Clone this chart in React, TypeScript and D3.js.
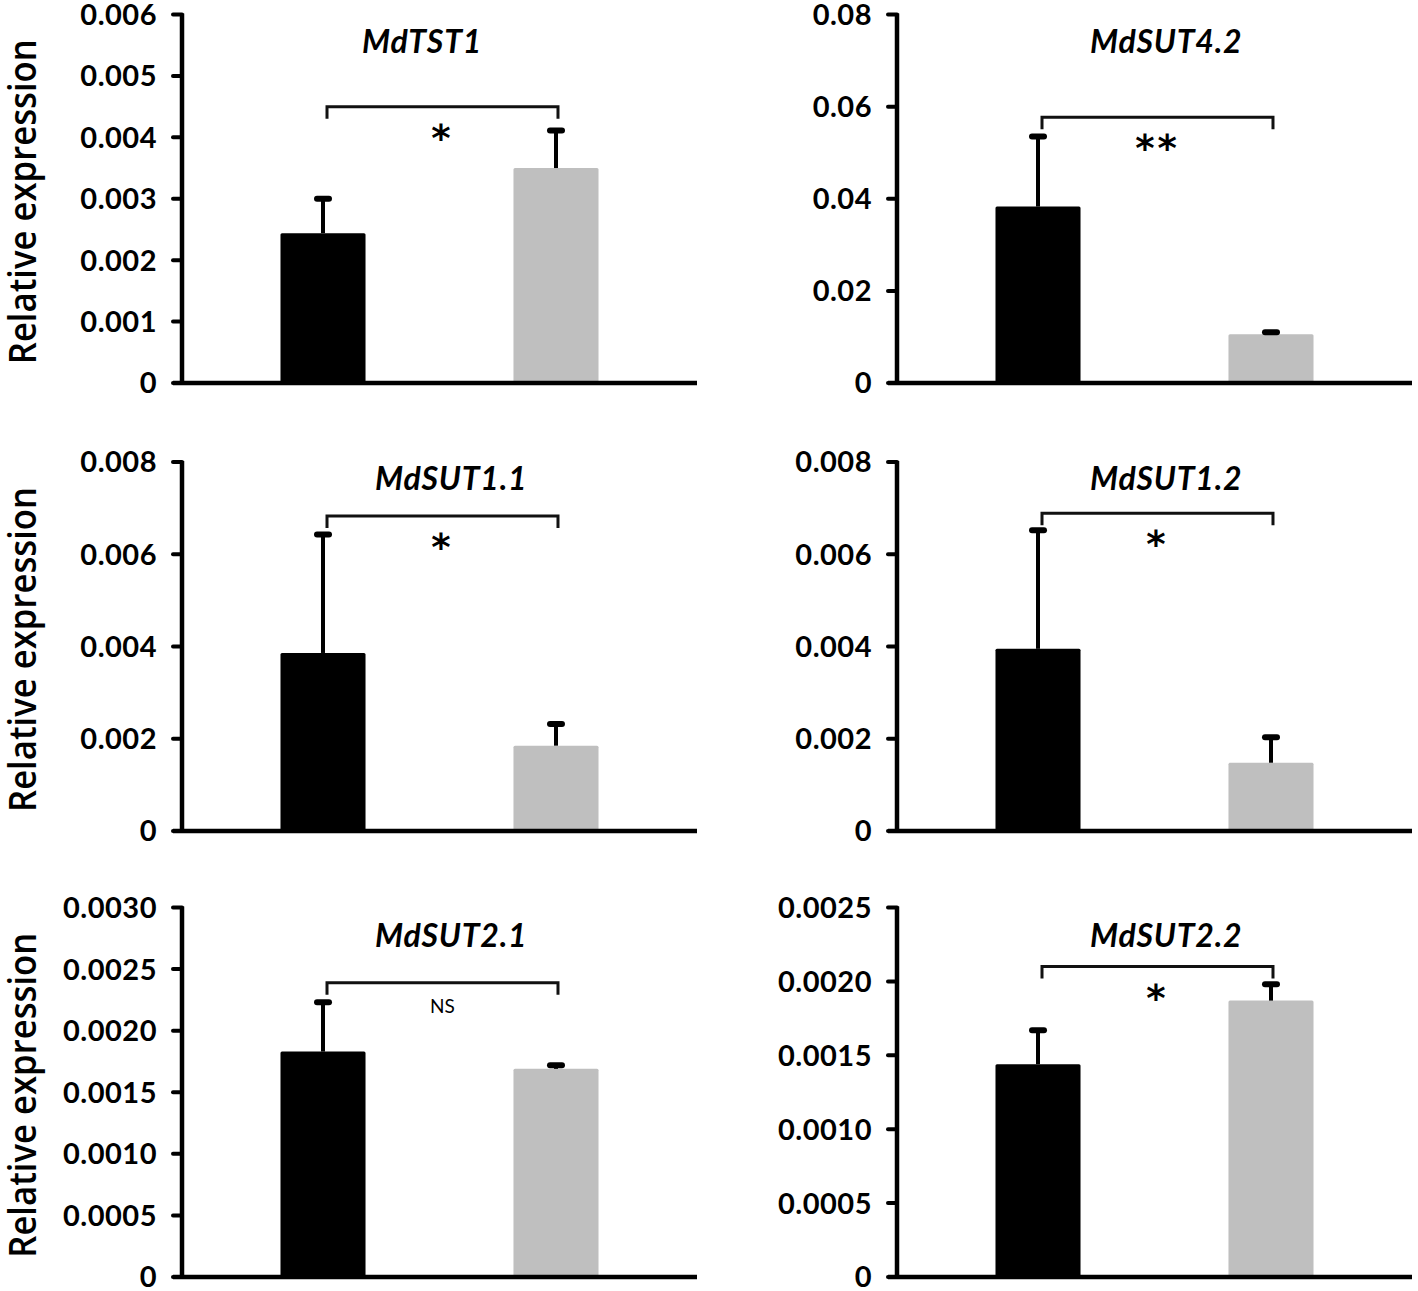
import React from 'react';
import * as d3 from 'd3';

// ---- data ----
const GENES = ['MdTST1', 'MdSUT4.2', 'MdSUT1.1', 'MdSUT1.2', 'MdSUT2.1', 'MdSUT2.2'];
const Y_MAX = [0.006, 0.08, 0.008, 0.008, 0.003, 0.0025];
const Y_STEP = [0.001, 0.02, 0.002, 0.002, 0.0005, 0.0005];
const Y_DECIMALS = [3, 2, 3, 3, 4, 4];
const GROUPS = ['control', 'treatment'];
const MEAN_BLACK = [0.00244, 0.0383, 0.00386, 0.00395, 0.00183, 0.00144];
const ERR_BLACK = [0.00056, 0.0152, 0.00257, 0.00257, 0.0004, 0.00023];
const MEAN_GRAY = [0.0035, 0.0106, 0.00185, 0.00148, 0.00169, 0.00187];
const ERR_GRAY = [0.00061, 0.0004, 0.00047, 0.00055, 0.00003, 0.00011];
const BRACKET_Y = [0.0045, 0.0577, 0.00683, 0.00689, 0.00239, 0.0021];
const SIG = ['*', '**', '*', '*', 'NS', '*'];
const Y_LABEL = 'Relative expression';

// ---- layout ----
const W = 1418;
const H = 1291;
const COL_X = [182, 897];
const PLOT_W = 515;
const ROWS = [
  [14.5, 383],
  [462, 831],
  [907.5, 1277],
];
const TITLE_BASE = [38, 28, 39];
const TITLE_DX = [-13, 0, 0, 0, 0, 0];
const COLORS = ['#000000', '#bfbfbf'];
const FONT = 'Lato, "Open Sans", sans-serif';

function Panel({ i }: { i: number }) {
  const col = i % 2;
  const row = Math.floor(i / 2);
  const x0 = COL_X[col];
  const [top, bottom] = ROWS[row];
  const y = d3.scaleLinear().domain([0, Y_MAX[i]]).range([bottom, top]);
  const x = d3
    .scaleBand<string>()
    .domain(GROUPS)
    .range([x0, x0 + PLOT_W])
    .paddingInner(0.635)
    .paddingOuter(0.4227);
  const bw = x.bandwidth();
  const ticks = d3.range(0, Y_MAX[i] + Y_STEP[i] / 2, Y_STEP[i]);
  const fmt = (v: number) => (Math.abs(v) < 1e-12 ? '0' : v.toFixed(Y_DECIMALS[i]));
  const means = [MEAN_BLACK[i], MEAN_GRAY[i]];
  const errs = [ERR_BLACK[i], ERR_GRAY[i]];
  const bx1 = (x(GROUPS[0]) as number) + bw / 2 + 4;
  const bx2 = (x(GROUPS[1]) as number) + bw / 2 + 2;
  const by = y(BRACKET_Y[i]);
  const isNS = SIG[i] === 'NS';
  return (
    <g>
      {/* bars */}
      {GROUPS.map((g, k) => (
        <rect
          key={g}
          x={x(g) as number}
          y={y(means[k])}
          width={bw}
          height={bottom - y(means[k])}
          fill={COLORS[k]}
          rx={1.5}
        />
      ))}
      {/* error bars */}
      {GROUPS.map((g, k) => {
        const cx = (x(g) as number) + bw / 2;
        const yt = y(means[k] + errs[k]);
        return (
          <g key={'e' + g}>
            <line x1={cx} x2={cx} y1={y(means[k])} y2={yt} stroke="#000" strokeWidth={4} />
            <line
              x1={cx - 6}
              x2={cx + 6}
              y1={yt}
              y2={yt}
              stroke="#000"
              strokeWidth={6}
              strokeLinecap="round"
            />
          </g>
        );
      })}
      {/* axes */}
      <line x1={x0} x2={x0} y1={top - 1} y2={bottom} stroke="#000" strokeWidth={4.5} />
      {ticks.map((t) => (
        <g key={t}>
          <line x1={x0 - 9} x2={x0} y1={y(t)} y2={y(t)} stroke="#000" strokeWidth={4} strokeLinecap="round" />
          <text
            x={x0 - 25}
            y={y(t)}
            dy="0.36em"
            textAnchor="end"
            fontFamily={FONT}
            fontWeight={700}
            fontSize={29}
            letterSpacing={0.5}
            fill="#000"
          >
            {fmt(t)}
          </text>
        </g>
      ))}
      <line x1={x0 - 9} x2={x0 + PLOT_W} y1={bottom} y2={bottom} stroke="#000" strokeWidth={4.5} />
      {/* title */}
      <text
        x={x0 + 193 + TITLE_DX[i]}
        y={top + TITLE_BASE[row]}
        fontFamily={FONT}
        fontWeight={700}
        fontStyle="italic"
        fontSize={32}
        letterSpacing={0.8}
        fill="#000"
      >
        {GENES[i]}
      </text>
      {/* significance bracket */}
      <path
        d={`M${bx1},${by + 12}V${by}H${bx2}V${by + 12}`}
        fill="none"
        stroke="#111"
        strokeWidth={3}
      />
      <text
        x={(bx1 + bx2) / 2}
        y={isNS ? by + 30 : by + 44}
        textAnchor="middle"
        fontFamily={isNS ? FONT : '"DejaVu Sans", sans-serif'}
        fontWeight={isNS ? 400 : 700}
        fontSize={isNS ? 19 : 37}
        letterSpacing={isNS ? 0 : 3}
        fill="#000"
      >
        {SIG[i]}
      </text>
      {/* y label */}
      {col === 0 && (
        <text
          transform={`translate(36,${(top + bottom) / 2 + 3}) rotate(-90)`}
          textAnchor="middle"
          fontFamily='"Open Sans", sans-serif'
          fontWeight={600}
          fontSize={38}
          textLength={325}
          lengthAdjust="spacingAndGlyphs"
          fill="#000"
        >
          {Y_LABEL}
        </text>
      )}
    </g>
  );
}

export default function App() {
  return (
    <svg
      width={W}
      height={H}
      viewBox={`0 0 ${W} ${H}`}
      style={{ position: 'absolute', left: 0, top: 0, background: '#fff' }}
    >
      <rect width={W} height={H} fill="#fff" />
      {GENES.map((_, i) => (
        <Panel key={i} i={i} />
      ))}
    </svg>
  );
}
